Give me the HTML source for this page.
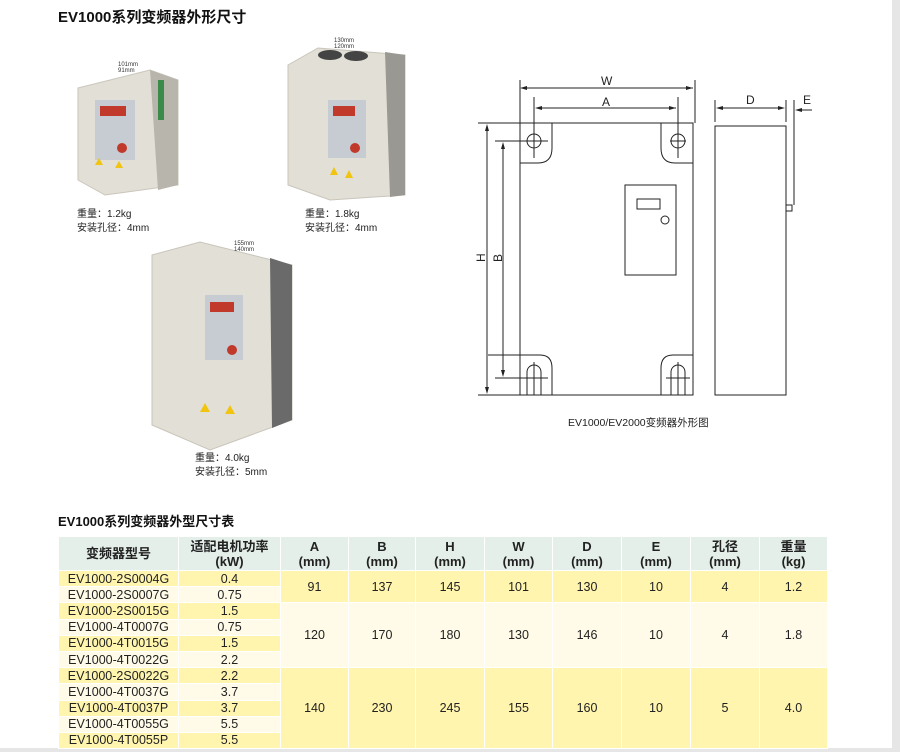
<!DOCTYPE html>
<html><head><meta charset="utf-8"><style>
body{margin:0;width:900px;height:752px;background:#e6e6e6;font-family:"Liberation Sans","Noto Sans CJK SC",sans-serif;position:relative;overflow:hidden}
#pg{position:absolute;left:0;top:0;width:892px;height:748px;background:#fff}
.t{position:absolute;font-size:10px;color:#222;line-height:14px}
table{position:absolute;left:58px;top:536px;border-collapse:collapse;font-size:12.5px;color:#222}
td,th{border:1px solid #fff;text-align:center;padding:0;height:15.2px;line-height:14px}
th{background:#e4efe9;font-weight:bold;font-size:13px;height:33px;line-height:15px}
.y{background:#fff5ae}.l{background:#fffbe8}
</style></head><body><div id="pg">
<div style="position:absolute;left:58px;top:6px;font-weight:bold;font-size:15px;color:#111">EV1000系列变频器外形尺寸</div>
<svg width="892" height="520" style="position:absolute;left:0;top:0" font-family="Liberation Sans" >
<g>
<polygon points="78,88 150,70 178,80 178,185 105,195 78,180" fill="#e2dfd6" stroke="#c9c5bb"/>
<polygon points="150,70 178,80 178,185 158,190" fill="#b8b5ad"/>
<rect x="95" y="100" width="40" height="60" fill="#c7ccd2"/><rect x="100" y="106" width="26" height="10" fill="#c0392b"/>
<circle cx="122" cy="148" r="5" fill="#c0392b"/><polygon points="95,165 103,165 99,158" fill="#f1c40f"/><polygon points="115,168 123,168 119,161" fill="#f1c40f"/>
<rect x="158" y="80" width="6" height="40" fill="#3a8a4a"/>
<text x="118" y="66" font-size="6" fill="#333">101mm</text><text x="118" y="72" font-size="6" fill="#333">91mm</text>
</g>
<g>
<polygon points="288,65 318,48 405,55 405,195 330,200 288,185" fill="#e2dfd6" stroke="#c9c5bb"/>
<polygon points="385,52 405,55 405,195 390,197" fill="#9a9893"/>
<ellipse cx="330" cy="55" rx="12" ry="5" fill="#444"/><ellipse cx="356" cy="56" rx="12" ry="5" fill="#444"/>
<rect x="328" y="100" width="38" height="58" fill="#c7ccd2"/><rect x="333" y="106" width="22" height="10" fill="#c0392b"/>
<circle cx="355" cy="148" r="5" fill="#c0392b"/><polygon points="330,175 338,175 334,167" fill="#f1c40f"/><polygon points="345,178 353,178 349,170" fill="#f1c40f"/>
<text x="334" y="42" font-size="6" fill="#333">130mm</text><text x="334" y="48" font-size="6" fill="#333">120mm</text>
</g>
<g>
<polygon points="152,255 200,242 292,265 292,420 210,450 152,425" fill="#e2dfd6" stroke="#c9c5bb"/>
<polygon points="270,258 292,265 292,420 272,428" fill="#6a6a6a"/>
<rect x="205" y="295" width="38" height="65" fill="#c7ccd2"/><rect x="210" y="302" width="24" height="10" fill="#c0392b"/>
<circle cx="232" cy="350" r="5" fill="#c0392b"/><polygon points="200,412 210,412 205,403" fill="#f1c40f"/><polygon points="225,414 235,414 230,405" fill="#f1c40f"/>
<text x="234" y="245" font-size="6" fill="#333">155mm</text><text x="234" y="251" font-size="6" fill="#333">140mm</text>
</g>
<g stroke="#222" stroke-width="1" fill="none">
<line x1="478" y1="123" x2="693" y2="123"/><line x1="478" y1="395" x2="693" y2="395"/>
<rect x="520" y="123" width="173" height="272"/>
<line x1="520" y1="80" x2="520" y2="123"/><line x1="695" y1="80" x2="695" y2="123"/>
<line x1="522" y1="88" x2="693" y2="88"/>
<line x1="534" y1="97" x2="534" y2="158"/><line x1="678" y1="97" x2="678" y2="158"/>
<line x1="537" y1="108" x2="676" y2="108"/>
<path d="M552,123 V148 Q552,163 538,163 H520"/><path d="M661,123 V148 Q661,163 675,163 H693"/>
<circle cx="534" cy="141" r="7"/><circle cx="678" cy="141" r="7"/>
<line x1="495" y1="141" x2="548" y2="141"/><line x1="670" y1="141" x2="686" y2="141"/>
<line x1="487" y1="126" x2="487" y2="392"/><line x1="503" y1="145" x2="503" y2="375"/>
<line x1="495" y1="378" x2="548" y2="378"/><line x1="666" y1="378" x2="690" y2="378"/>
<path d="M488,355 H540 Q552,355 552,368 V395"/><path d="M693,355 H673 Q661,355 661,368 V395"/>
<path d="M527,395 V372 A7,7 0 0 1 541,372 V395"/><path d="M671,395 V372 A7,7 0 0 1 685,372 V395"/>
<line x1="534" y1="362" x2="534" y2="395"/><line x1="678" y1="362" x2="678" y2="395"/>
<rect x="625" y="185" width="51" height="90"/><rect x="637" y="199" width="23" height="10"/><circle cx="665" cy="220" r="4"/>
<rect x="715" y="126" width="71" height="269"/>
<line x1="715" y1="100" x2="715" y2="122"/><line x1="786" y1="100" x2="786" y2="122"/>
<line x1="718" y1="108" x2="783" y2="108"/>
<line x1="794" y1="100" x2="794" y2="205"/><rect x="786" y="205" width="6" height="6"/>
<line x1="797" y1="110" x2="812" y2="110"/>
</g>
<g fill="#222">
<polygon points="520,88 527,86 527,90"/><polygon points="693,88 686,86 686,90"/>
<polygon points="535,108 542,106 542,110"/><polygon points="676,108 669,106 669,110"/>
<polygon points="487,124 485,131 489,131"/><polygon points="487,394 485,387 489,387"/>
<polygon points="503,142 501,149 505,149"/><polygon points="503,377 501,370 505,370"/>
<polygon points="716,108 723,106 723,110"/><polygon points="785,108 778,106 778,110"/>
<polygon points="795,110 802,108 802,112"/>
</g>
<g font-size="12" fill="#222">
<text x="601" y="85">W</text><text x="602" y="106">A</text><text x="746" y="104">D</text><text x="803" y="104">E</text>
<text transform="translate(485,262) rotate(-90)">H</text><text transform="translate(502,262) rotate(-90)">B</text>
</g>
<text x="568" y="426" font-size="10.5" fill="#222" font-family="Liberation Sans, Noto Sans CJK SC">EV1000/EV2000变频器外形图</text>
</svg>
<div class="t" style="left:77px;top:208px">重量：1.2kg<br>安装孔径：4mm</div>
<div class="t" style="left:305px;top:208px">重量：1.8kg<br>安装孔径：4mm</div>
<div class="t" style="left:195px;top:452px">重量：4.0kg<br>安装孔径：5mm</div>
<div style="position:absolute;left:58px;top:511px;font-weight:bold;font-size:13px;color:#111">EV1000系列变频器外型尺寸表</div>
<table>
<colgroup><col style="width:120px"><col style="width:102px"><col style="width:68px"><col style="width:67px"><col style="width:69px"><col style="width:68px"><col style="width:69px"><col style="width:69px"><col style="width:69px"><col style="width:68px"></colgroup>
<tr><th>变频器型号</th><th>适配电机功率<br>(kW)</th><th>A<br>(mm)</th><th>B<br>(mm)</th><th>H<br>(mm)</th><th>W<br>(mm)</th><th>D<br>(mm)</th><th>E<br>(mm)</th><th>孔径<br>(mm)</th><th>重量<br>(kg)</th></tr>
<tr class="y"><td>EV1000-2S0004G</td><td>0.4</td><td rowspan="2">91</td><td rowspan="2">137</td><td rowspan="2">145</td><td rowspan="2">101</td><td rowspan="2">130</td><td rowspan="2">10</td><td rowspan="2">4</td><td rowspan="2">1.2</td></tr>
<tr class="l"><td>EV1000-2S0007G</td><td>0.75</td></tr>
<tr class="y"><td>EV1000-2S0015G</td><td>1.5</td><td rowspan="4" class="l">120</td><td rowspan="4" class="l">170</td><td rowspan="4" class="l">180</td><td rowspan="4" class="l">130</td><td rowspan="4" class="l">146</td><td rowspan="4" class="l">10</td><td rowspan="4" class="l">4</td><td rowspan="4" class="l">1.8</td></tr>
<tr class="l"><td>EV1000-4T0007G</td><td>0.75</td></tr>
<tr class="y"><td>EV1000-4T0015G</td><td>1.5</td></tr>
<tr class="l"><td>EV1000-4T0022G</td><td>2.2</td></tr>
<tr class="y"><td>EV1000-2S0022G</td><td>2.2</td><td rowspan="5">140</td><td rowspan="5">230</td><td rowspan="5">245</td><td rowspan="5">155</td><td rowspan="5">160</td><td rowspan="5">10</td><td rowspan="5">5</td><td rowspan="5">4.0</td></tr>
<tr class="l"><td>EV1000-4T0037G</td><td>3.7</td></tr>
<tr class="y"><td>EV1000-4T0037P</td><td>3.7</td></tr>
<tr class="l"><td>EV1000-4T0055G</td><td>5.5</td></tr>
<tr class="y"><td>EV1000-4T0055P</td><td>5.5</td></tr>
</table>
</div></body></html>
